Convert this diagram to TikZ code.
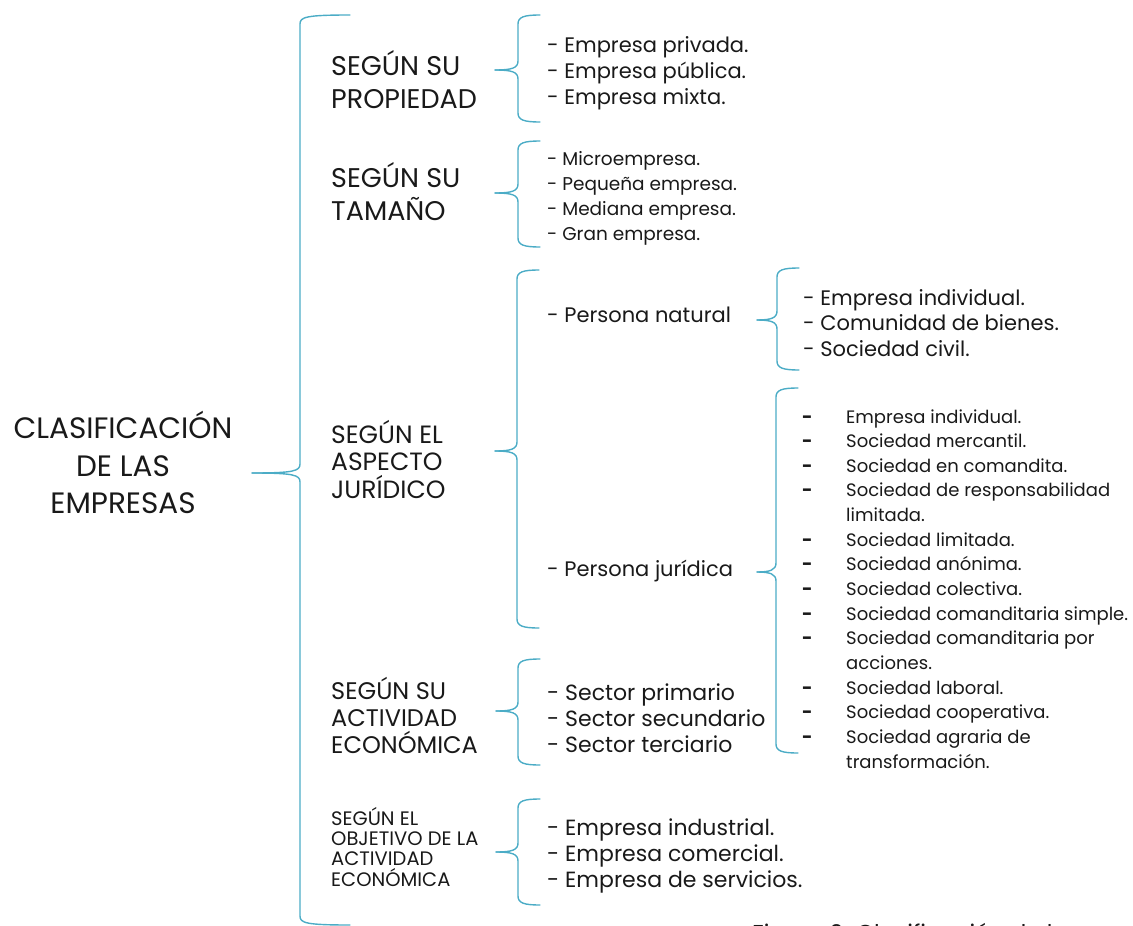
\documentclass[tikz,border=0pt]{standalone}
\usepackage{fontspec}
\setmainfont{Poppins}
\definecolor{azulllave}{RGB}{75,172,198}
\definecolor{texto}{RGB}{25,25,25}

% brace: x of stem, top, tip y, bottom, tip x, hook length
\newcommand{\llave}[6]{
	\draw[llave] (#1+#6,#2) .. controls (#1+6,#2) and (#1,#2+2) .. (#1,#2+9) -- (#1,#3-9) .. controls (#1,#3-2) and (#1-6,#3) .. (#5,#3);
	\draw[llave] (#5,#3) .. controls (#1-6,#3) and (#1,#3+2) .. (#1,#3+9) -- (#1,#4-9) .. controls (#1,#4-2) and (#1+6,#4) .. (#1+#6,#4);
}

\tikzset{
	llave/.style={draw=azulllave,line width=1.4pt,line cap=round},
	titulo/.style={anchor=base,inner sep=0pt,text=texto,font=\fontsize{29.5}{33}\selectfont},
	cabeza/.style={anchor=base west,inner sep=0pt,text=texto,font=\fontsize{27}{31}\selectfont},
	item/.style={anchor=base west,inner sep=0pt,text=texto,font=\fontsize{21}{25}\selectfont},
	chico/.style={anchor=base west,inner sep=0pt,text=texto,font=\fontsize{18}{22}\selectfont},
}

\begin{document}
\begin{tikzpicture}[x=1pt,y=-1pt]
	\useasboundingbox (0,0) rectangle (1133,926);
	% root
	\node[titulo] (cla1) at (123,438) {CLASIFICACIÓN};
	\node[titulo] (cla2) at (123,476) {DE LAS};
	\node[titulo] (cla3) at (123,513) {EMPRESAS};
	\llave{300}{15}{473}{925}{252}{50}
	% according to property
	\node[cabeza] (pro1) at (331,75) {SEGÚN SU};
	\node[cabeza] (pro2) at (331,108) {PROPIEDAD};
	\llave{518}{15}{70}{122}{495}{22}
	\foreach \t [count=\i] in {Empresa privada.,Empresa pública.,Empresa mixta.}
		\node[item] (prop\i) at (547,52+26*\i-26) {- \t};
	% according to size
	\node[cabeza] (tam1) at (331,187) {SEGÚN SU};
	\node[cabeza] (tam2) at (331,220) {TAMAÑO};
	\llave{518}{141}{193}{247}{495}{22}
	\foreach \t [count=\i] in {Microempresa.,Pequeña empresa.,Mediana empresa.,Gran empresa.}
		\node[item,font=\fontsize{18.5}{22}\selectfont] (tama\i) at (547,165+25*\i-25) {- \t};
	% legal aspect
	\node[cabeza,font=\fontsize{25}{29}\selectfont] (jur1) at (331,443) {SEGÚN EL};
	\node[cabeza,font=\fontsize{25}{29}\selectfont] (jur2) at (331,470) {ASPECTO};
	\node[cabeza,font=\fontsize{25}{29}\selectfont] (jur3) at (331,498) {JURÍDICO};
	\llave{517}{270}{451}{628}{495}{22}
	\node[item] (nat) at (547,322) {- Persona natural};
	\node[item] (jpers) at (547,576) {- Persona jurídica};
	\llave{777}{268}{320}{370}{757}{22}
	\foreach \t [count=\i] in {Empresa individual.,Comunidad de bienes.,Sociedad civil.}
		\node[item] (natu\i) at (803,305+25.5*\i-25.5) {- \t};
	\llave{776}{388}{572}{753}{757}{22}
	\foreach \t/\k in {Empresa individual./0,Sociedad mercantil./1,Sociedad en comandita./2,Sociedad de responsabilidad/3,Sociedad limitada./5,Sociedad anónima./6,Sociedad colectiva./7,Sociedad comanditaria simple./8,Sociedad comanditaria por/9,Sociedad laboral./11,Sociedad cooperativa./12,Sociedad agraria de/13}{
		\node[chico,font=\fontsize{18}{22}\bfseries] (jgu\k) at (802,423+24.65*\k) {-};
		\node[chico] (jtx\k) at (846,423+24.65*\k) {\t};
	}
	\node[chico] (jtx4) at (846,423+24.65*4) {limitada.};
	\node[chico] (jtx10) at (846,423+24.65*10) {acciones.};
	\node[chico] (jtx14) at (846,423+24.65*14) {transformación.};
	% economic activity
	\node[cabeza,font=\fontsize{24}{28}\selectfont] (act1) at (331,699) {SEGÚN SU};
	\node[cabeza,font=\fontsize{24}{28}\selectfont] (act2) at (331,726) {ACTIVIDAD};
	\node[cabeza,font=\fontsize{24}{28}\selectfont] (act3) at (331,753) {ECONÓMICA};
	\llave{518}{659}{711}{765}{496}{22}
	\foreach \t [count=\i] in {Sector primario,Sector secundario,Sector terciario}
		\node[item,font=\fontsize{22}{26}\selectfont] (sec\i) at (547,700+26*\i-26) {- \t};
	% objective
	\node[cabeza,font=\fontsize{19.5}{22}\selectfont] (obj1) at (331,825) {SEGÚN EL};
	\node[cabeza,font=\fontsize{19.5}{22}\selectfont] (obj2) at (331,845) {OBJETIVO DE LA};
	\node[cabeza,font=\fontsize{19.5}{22}\selectfont] (obj3) at (331,865) {ACTIVIDAD};
	\node[cabeza,font=\fontsize{19.5}{22}\selectfont] (obj4) at (331,886) {ECONÓMICA};
	\llave{518}{799}{852}{905}{496}{22}
	\foreach \t [count=\i] in {Empresa industrial.,Empresa comercial.,Empresa de servicios.}
		\node[item,font=\fontsize{22}{26}\selectfont] (obje\i) at (547,835+26*\i-26) {- \t};
	% caption, cut by the page edge
	\node[item,font=\fontsize{23}{27}\selectfont] (pie) at (752,941) {Figura 2: Clasificación de las};
\end{tikzpicture}
\end{document}
